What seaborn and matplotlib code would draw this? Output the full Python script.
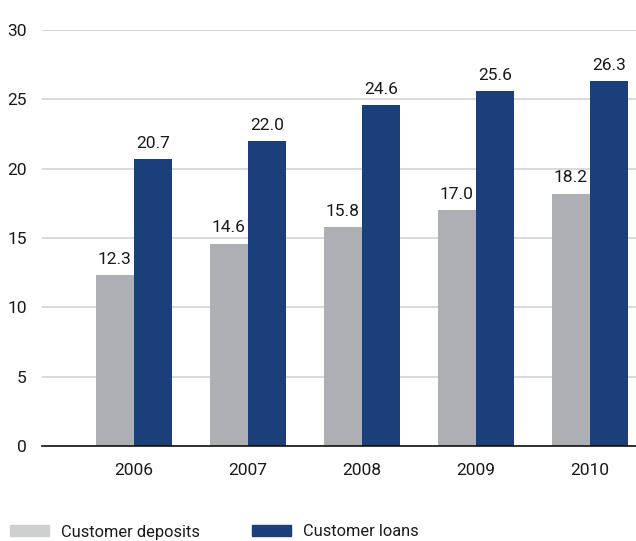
import matplotlib
matplotlib.use("Agg")
import matplotlib.pyplot as plt
import matplotlib.patches as mpatches
import seaborn as sns
import pandas as pd

years = ["2006", "2007", "2008", "2009", "2010"]
deposits = [12.3, 14.6, 15.8, 17.0, 18.2]
loans = [20.7, 22.0, 24.6, 25.6, 26.3]
series = ["Customer deposits", "Customer loans"]
yticks = [0, 5, 10, 15, 20, 25, 30]

colors = {"Customer deposits": "#adafb5", "Customer loans": "#1a3f7b"}
legend_colors = {"Customer deposits": "#cdcfd3", "Customer loans": "#1a3f7b"}

df = pd.DataFrame({
    "year": years * 2,
    "value": deposits + loans,
    "series": [series[0]] * len(years) + [series[1]] * len(years),
})

sns.set_theme(style="white")
plt.rcParams["font.family"] = ["Roboto", "DejaVu Sans"]

fig = plt.figure(figsize=(6.36, 5.41), dpi=100)
ax = fig.add_axes([42 / 636, 1 - 446 / 541, 1 - 42 / 636, 416 / 541])

sns.barplot(data=df, x="year", y="value", hue="series", order=years,
            hue_order=series, palette=colors, width=0.667, saturation=1,
            linewidth=0, ax=ax, legend=False)

for container in ax.containers:
    ax.bar_label(container, fmt="%.1f", padding=6, fontsize=12.5, color="#1a1a1a")

ax.set_ylim(0, 30)
ax.set_xlim(-0.807, 4.404)
ax.set_yticks(yticks)
ax.set_yticklabels([str(t) for t in yticks])
ax.yaxis.grid(True, color="#d2d2da", linewidth=1.2)
ax.set_axisbelow(True)
for s in ["top", "right", "left"]:
    ax.spines[s].set_visible(False)
ax.spines["bottom"].set_color("#111111")
ax.spines["bottom"].set_linewidth(1.2)
ax.tick_params(axis="y", length=0, pad=11, labelsize=12.5, labelcolor="#1a1a1a")
ax.tick_params(axis="x", length=0, pad=12, labelsize=12.5, labelcolor="#1a1a1a")
ax.set_xlabel("")
ax.set_ylabel("")

handles = [mpatches.Patch(color=legend_colors[s], label=s) for s in series]
fig.legend(handles=handles, loc="center left",
           bbox_to_anchor=(10 / 636, 1 - 532 / 541),
           ncol=2, frameon=False, fontsize=11.8, handlelength=2.35,
           handleheight=0.68, handletextpad=0.75, columnspacing=3.2,
           borderpad=0, borderaxespad=0, labelcolor="#1a1a1a")

fig.savefig("out.png", dpi=100)
